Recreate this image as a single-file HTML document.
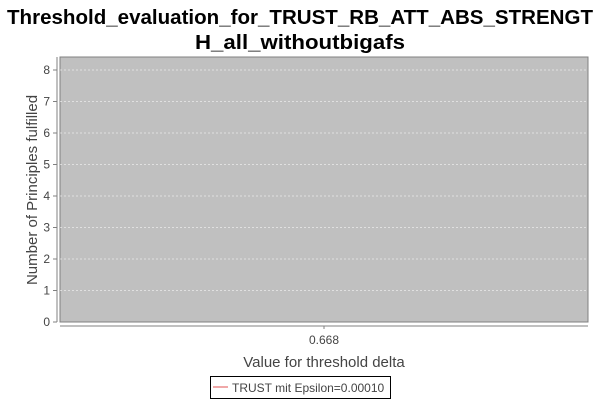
<!DOCTYPE html>
<html><head><meta charset="utf-8"><style>
body{margin:0;background:#fff;width:600px;height:400px;overflow:hidden;font-family:"Liberation Sans","DejaVu Sans",sans-serif}
</style></head><body>
<svg width="600" height="400" xmlns="http://www.w3.org/2000/svg" id="chart">
<text x="300" y="24" text-anchor="middle" font-size="20" font-weight="bold" fill="#000" textLength="586" lengthAdjust="spacingAndGlyphs">Threshold_evaluation_for_TRUST_RB_ATT_ABS_STRENGT</text>
<text x="300" y="49" text-anchor="middle" font-size="20" font-weight="bold" fill="#000" textLength="210" lengthAdjust="spacingAndGlyphs">H_all_withoutbigafs</text>
<rect x="60" y="57" width="528" height="265" fill="#c0c0c0" stroke="#808080" stroke-width="1"/>
<g id="grid"></g>
<line x1="57" y1="57" x2="57" y2="322" stroke="#808080"/>
<line x1="60" y1="326" x2="588" y2="326" stroke="#808080"/>
<g id="yticks" font-size="12" fill="#444"></g>
<g id="xticks" font-size="12" fill="#444"></g>
<g id="series"></g>
<text transform="translate(37,190) rotate(-90)" text-anchor="middle" font-size="15" fill="#444">Number of Principles fulfilled</text>
<text x="324" y="367" text-anchor="middle" font-size="15" fill="#444">Value for threshold delta</text>
<g>
<rect x="210.5" y="376.5" width="180" height="22" fill="#fff" stroke="#000"/>
<line x1="213" y1="387" x2="228" y2="387" stroke="#e05050"/>
<text x="232" y="392" font-size="12" fill="#444">TRUST mit Epsilon=0.00010</text>
</g>
</svg>
<script>
const categories = ["0.668"];
const seriesValues = [8];
const yTicks = [0,1,2,3,4,5,6,7,8];
const NS="http://www.w3.org/2000/svg";
function yScale(v){return 322 - v*31.5;}
function xScale(i){return 60 + (i+0.5)*528/categories.length;}
const grid=document.getElementById('grid'), yt=document.getElementById('yticks'), xt=document.getElementById('xticks'), sr=document.getElementById('series');
yTicks.forEach(v=>{
  const y=yScale(v);
  if(v>0){
    const g=document.createElementNS(NS,'line');
    g.setAttribute('x1',60);g.setAttribute('x2',588);g.setAttribute('y1',y);g.setAttribute('y2',y);
    g.setAttribute('stroke','#ffffff');g.setAttribute('stroke-dasharray','2,2');g.setAttribute('stroke-width','0.6');
    
    
    grid.appendChild(g);
  }
  const t=document.createElementNS(NS,'line');
  t.setAttribute('x1',53);t.setAttribute('x2',57);t.setAttribute('y1',y);t.setAttribute('y2',y);t.setAttribute('stroke','#808080');
  
  
  yt.appendChild(t);
  const l=document.createElementNS(NS,'text');
  l.setAttribute('x',50);l.setAttribute('y',y+4);l.setAttribute('text-anchor','end');l.textContent=v;
  
  
  yt.appendChild(l);
});
categories.forEach((c,i)=>{
  const x=xScale(i);
  const t=document.createElementNS(NS,'line');
  t.setAttribute('x1',x);t.setAttribute('x2',x);t.setAttribute('y1',326);t.setAttribute('y2',329);t.setAttribute('stroke','#808080');
  
  
  xt.appendChild(t);
  const l=document.createElementNS(NS,'text');
  l.setAttribute('x',x);l.setAttribute('y',344);l.setAttribute('text-anchor','middle');l.textContent=c;
  
  
  xt.appendChild(l);
});
const p=document.createElementNS(NS,'path');
p.setAttribute('d',seriesValues.map((v,i)=>(i?'L':'M')+xScale(i)+','+yScale(v)).join(' '));
p.setAttribute('fill','none');p.setAttribute('stroke','#e05050');


sr.appendChild(p);
</script>
</body></html>
